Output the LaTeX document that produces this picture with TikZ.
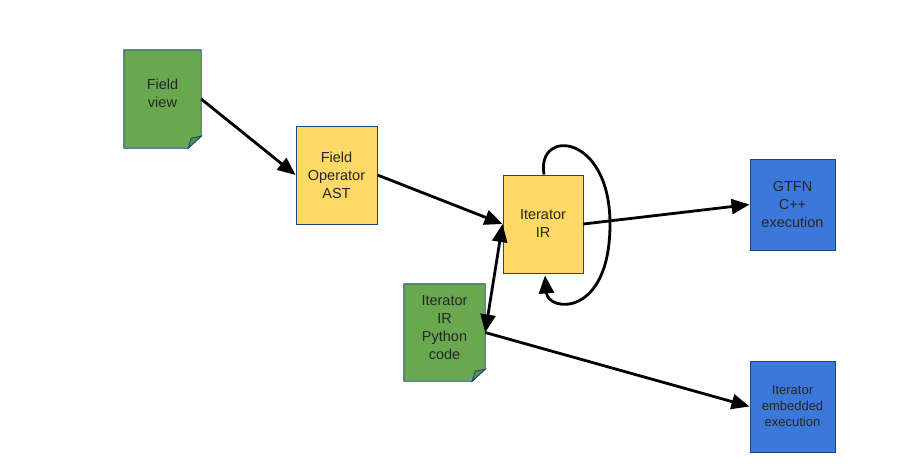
\documentclass[tikz,border=0pt]{standalone}
\usepackage{fontspec}
\setmainfont{Liberation Sans}
\usetikzlibrary{arrows.meta,calc}
\definecolor{docgreen}{HTML}{6AA84F}
\definecolor{foldgreen}{HTML}{5B9442}
\definecolor{irYellow}{HTML}{FFD966}
\definecolor{exBlue}{HTML}{3C78D8}
\definecolor{edgeBlue}{HTML}{1C4587}
\tikzset{
  box/.style={draw=edgeBlue, line width=0.9pt, inner sep=0pt, align=center, font=\fontsize{14.5}{18}\selectfont, text=black!85},
  yellowbox/.style={box, fill=irYellow},
  bluebox/.style={box, fill=exBlue},
  docbox/.style={inner sep=0pt},
  doctext/.style={align=center, font=\fontsize{14.5}{18}\selectfont, text=black!85},
  conn/.style={line width=2.8pt, -{Triangle[length=18pt,width=15pt]}},
  biconn/.style={line width=2.8pt, {Triangle[length=18pt,width=15pt]}-{Triangle[length=18pt,width=15pt]}},
}
\begin{document}
\begin{tikzpicture}[x=1pt,y=-1pt]
\useasboundingbox[fill=white] (0,0) rectangle (914,475);

% document-shaped nodes
\node[docbox, minimum width=77pt, minimum height=98pt] (fv) at (162.5,99) {};
\node[docbox, minimum width=81pt, minimum height=97pt] (py) at (444.5,332.5) {};

\foreach \n in {fv,py}{
  \filldraw[fill=docgreen, draw=edgeBlue, line width=0.9pt]
    (\n.north west) -- (\n.north east) -- ($(\n.south east)+(0,-12)$)
    -- ($(\n.south east)+(-13,0)$) -- (\n.south west) -- cycle;
  \filldraw[fill=foldgreen, draw=edgeBlue, line width=0.9pt]
    ($(\n.south east)+(-13,0)$) -- ($(\n.south east)+(-10,-10)$) -- ($(\n.south east)+(0,-12)$) -- cycle;
}
\node[doctext] (fvtext) at ($(fv.center)+(0,-6)$) {Field\\view};
\node[doctext] (pytext) at ($(py.center)+(0,-5)$) {Iterator\\IR\\Python\\code};

\node[yellowbox, minimum width=81pt, minimum height=98pt] (foa) at (336.5,175) {Field\\Operator\\AST};
\node[yellowbox, minimum width=80pt, minimum height=98pt] (ir) at (543,224) {Iterator\\IR};
\node[bluebox, minimum width=85pt, minimum height=91pt] (gtfn) at (792.5,204.5) {GTFN\\C++\\execution};
\node[bluebox, minimum width=85pt, minimum height=91pt, font=\fontsize{13}{16}\selectfont] (emb) at (792.5,406.5) {Iterator\\embedded\\execution};

\draw[conn] (fv.east) -- (foa.west);
\draw[conn] (foa.east) -- (ir.west);
\draw[conn] (ir.east) -- (gtfn.west);
\draw[biconn] (ir.west) -- (py.east);
\draw[conn] (py.east) -- (emb.west);
\draw[conn] ($(ir.north)+(1,0)$) .. controls (536,128) and (610,133) .. (610,224)
  .. controls (610,318) and (548,312) .. ($(ir.south)+(2,2)$);
\end{tikzpicture}
\end{document}
